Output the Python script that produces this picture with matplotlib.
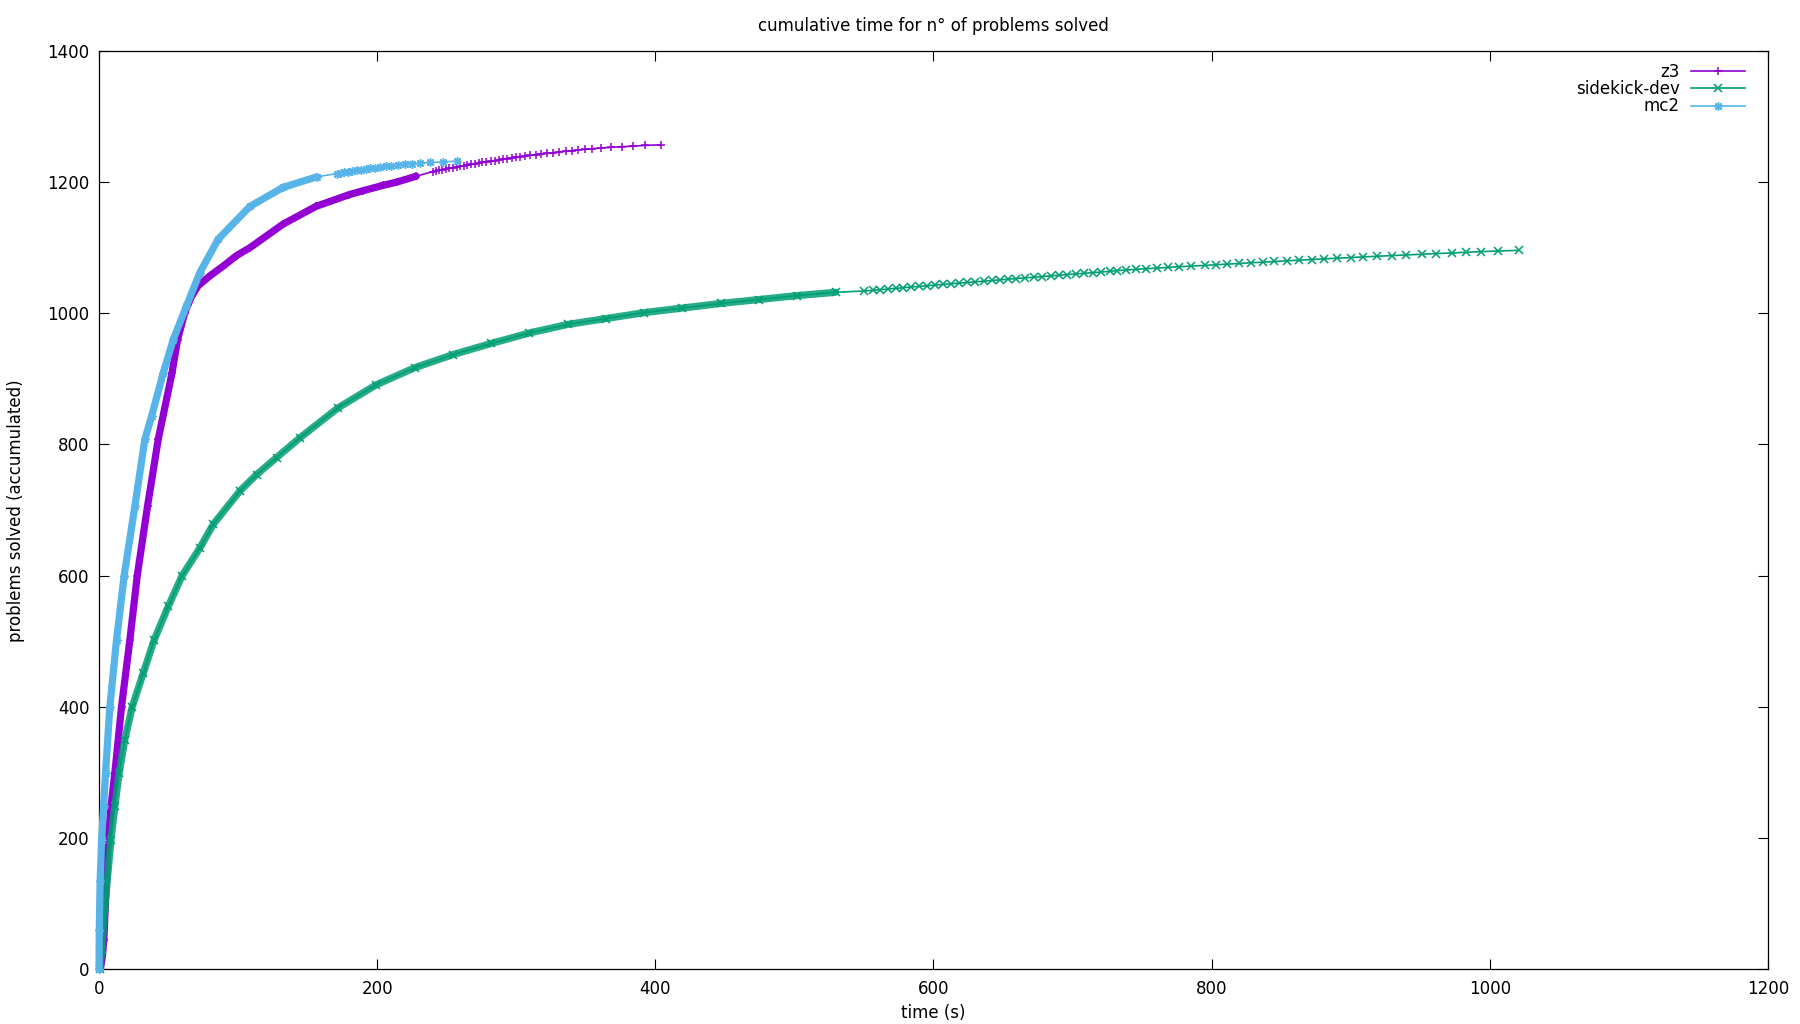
import numpy as np
import matplotlib
matplotlib.use("Agg")
from matplotlib import pyplot as plt

# values
# dense part of each curve: (time in s, problems solved) read along the band
z3_time = [1.0, 2.5, 3.5, 4.5, 6.6, 8.6, 11.4, 16.2, 22.2, 27.5, 34.9, 42.6,
           52.5, 56.5, 61.7, 66.6, 71.3, 79.7, 89.3, 98.9, 108.5, 132.4,
           156.0, 180.0, 190.0, 204.0, 214.0, 228.0]
z3_solved = [0, 20, 45, 95, 200, 248, 299, 400, 502, 600, 706, 808,
             909, 960, 1001, 1026, 1042, 1057, 1072, 1088, 1100, 1136,
             1163, 1181, 1187, 1195, 1200, 1209]
# sparse end of each curve: one marker per solved problem
z3_tail_time = [239.8, 242.2, 244.4, 246.8, 249.2, 251.8, 254.6, 257.1, 259.9,
                262.3, 264.9, 267.8, 270.5, 273.1, 275.7, 278.6, 281.7, 284.6,
                287.7, 290.6, 293.5, 296.6, 299.5, 302.6, 306.2, 309.8, 313.9,
                317.5, 321.8, 326.6, 330.8, 335.6, 340.2, 344.5, 349.4, 354.8,
                360.6, 368.0, 375.7, 384.1, 392.4, 404.4]
z3_tail_first = 1216

sk_time = [0.5, 2.0, 4.2, 8.6, 11.4, 14.5, 18.6, 23.9, 31.8, 39.7, 49.8,
           59.8, 72.5, 82.1, 101.3, 113.3, 127.7, 144.4, 172.0, 199.4, 227.0,
           254.5, 282.0, 309.5, 337.0, 364.6, 392.0, 419.5, 447.0, 474.5,
           502.0, 529.6]
sk_solved = [0, 29, 95, 197, 248, 299, 350, 400, 451, 502, 553,
             600, 642, 678, 729, 754, 780, 810, 856, 891, 917,
             937, 954, 970, 983, 992, 1001, 1008, 1015, 1021,
             1027, 1032]
sk_tail_time = [550.0, 556.6, 561.9, 567.4, 572.7, 578.2, 583.7, 589.7, 595.4,
                600.9, 606.9, 612.5, 618.2, 624.2, 630.2, 636.2, 642.2, 647.7,
                653.7, 659.6, 666.1, 672.1, 678.3, 684.3, 690.1, 696.1, 702.3,
                708.3, 714.8, 720.8, 726.8, 731.6, 738.7, 745.9, 753.1, 761.0,
                768.7, 776.6, 785.0, 795.0, 803.0, 811.0, 820.0, 828.0, 837.0,
                845.0, 854.0, 863.0, 872.0, 881.0, 890.0, 900.0, 909.0, 919.0,
                930.0, 940.0, 951.0, 961.0, 973.0, 983.0, 994.0, 1006.0, 1021.0]
sk_tail_first = 1034

mc2_time = [0.0, 0.2, 0.8, 1.9, 3.3, 4.7, 7.8, 12.6, 18.1, 25.8, 33.0, 37.8,
            46.2, 53.4, 62.9, 72.5, 85.7, 108.5, 132.4, 156.4]
mc2_solved = [0, 60, 134, 197, 248, 299, 400, 502, 600, 706, 808, 843,
              909, 960, 1011, 1062, 1113, 1163, 1192, 1208]
mc2_tail_time = [170.8, 173.7, 176.3, 179.2, 182.1, 185.2, 188.3, 191.9, 195.2,
                 198.8, 202.4, 206.3, 210.3, 215.1, 219.9, 225.4, 230.7, 237.9,
                 247.4, 257.5]
mc2_tail_first = 1213

x_ticks = [0, 200, 400, 600, 800, 1000, 1200]
y_ticks = [0, 200, 400, 600, 800, 1000, 1200, 1400]

plt.rcParams["font.family"] = ["DejaVu Sans"]
plt.rcParams["font.size"] = 12

fig = plt.figure(figsize=(18, 10.24), dpi=100)
ax = fig.add_axes([0.055, 0.0537, 0.9272, 0.8965])


def draw(t, n, tail_t, tail_first, color, marker, label, z, band_alpha=1.0):
    tail_n = np.arange(tail_first, tail_first + len(tail_t))
    # overlapping markers in the dense part show as a solid band
    ax.plot(t, n, color=color, lw=5.2, alpha=band_alpha,
            solid_capstyle="round", solid_joinstyle="round", zorder=z,
            clip_on=False)
    ax.plot(list(t) + list(tail_t), list(n) + list(tail_n), color=color,
            lw=1.2, marker=marker, ms=6, mew=1.1, zorder=z + 0.5,
            clip_on=False, label=label)


draw(z3_time, z3_solved, z3_tail_time, z3_tail_first,
     "#9400D3", "+", "z3", 2)
draw(sk_time, sk_solved, sk_tail_time, sk_tail_first,
     "#009E73", "x", "sidekick-dev", 3, band_alpha=0.85)
draw(mc2_time, mc2_solved, mc2_tail_time, mc2_tail_first,
     "#56B4E9", (8, 2, 0), "mc2", 4)

ax.set_xlim(0, 1200)
ax.set_ylim(0, 1400)
ax.set_xticks(x_ticks)
ax.set_yticks(y_ticks)
ax.tick_params(direction="in", length=7, width=0.8, top=True, right=True,
               labelsize=12)
ax.tick_params(axis="x", pad=8)
ax.tick_params(axis="y", pad=7)
for s in ax.spines.values():
    s.set_linewidth(0.9)

fig.text(0.5186, 1 - 26 / 1024, "cumulative time for n° of problems solved",
         ha="center", va="center", fontsize=12)
fig.text(0.5186, 1 - 1013 / 1024, "time (s)", ha="center", va="center",
         fontsize=12)
fig.text(16 / 1800, 1 - 511 / 1024, "problems solved (accumulated)",
         ha="center", va="center", rotation=90, fontsize=12)

ax.legend(loc="upper right", bbox_to_anchor=(0.991, 0.996), frameon=False,
          markerfirst=False, numpoints=1, handlelength=3.2, handletextpad=0.7,
          labelspacing=-0.05, borderpad=0, fontsize=12)

fig.savefig("out.png", dpi=100)
